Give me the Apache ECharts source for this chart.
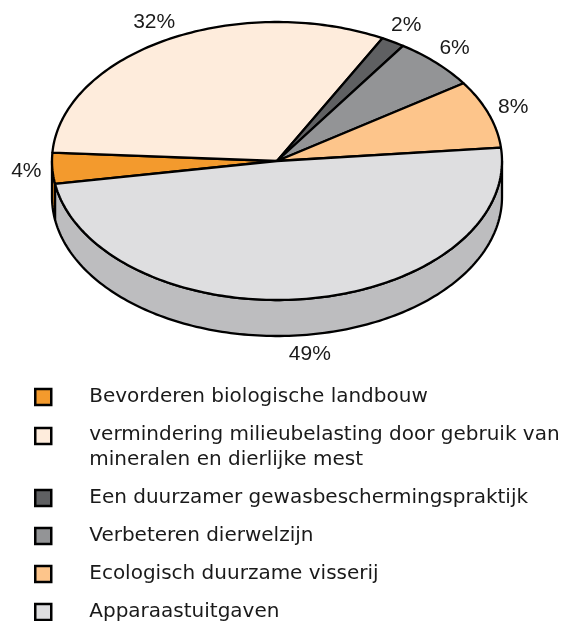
<!DOCTYPE html>
<html>
<head>
<meta charset="utf-8">
<script src="https://cdn.jsdelivr.net/npm/echarts@6/dist/echarts.min.js"></script>
<style>
  html, body { margin: 0; padding: 0; background: #fff; }
  #main { width: 566px; height: 621px; }
</style>
</head>
<body>
<div id="main"></div>
<script>
// slices, clockwise from the left edge of the pie
const categories = [
  'Bevorderen biologische landbouw',
  'vermindering milieubelasting door gebruik van mineralen en dierlijke mest',
  'Een duurzamer gewasbeschermingspraktijk',
  'Verbeteren dierwelzijn',
  'Ecologisch duurzame visserij',
  'Apparaastuitgaven'
];
const shares = [3.6, 31.8, 1.7, 6.1, 7.9, 48.9];

const topColors = ['#f39a2d', '#feecdc', '#5f6062', '#939496', '#fdc58b', '#dedee0'];
const sideColors = ['#d9821f', '#e6d4c4', '#4a4b4d', '#7a7b7d', '#e6ab70', '#bdbdbf'];

// pie geometry
const CX = 277, CY = 161, RX = 225, RY = 139, DEPTH = 36, START_DEG = 170.5;
const LABEL_FONT = 'Liberation Sans';
const LEGEND_FONT = 'DejaVu Sans';

const total = shares.reduce((a, b) => a + b, 0);
const before = shares.map((v, i) => shares.slice(0, i).reduce((a, b) => a + b, 0));

function pt(a, dy) {
  return [CX + RX * Math.cos(a), CY + RY * Math.sin(a) + dy];
}
function arc(a1, a2, dy) {
  const n = Math.max(2, Math.ceil(Math.abs(a2 - a1) / 0.02));
  const pts = [];
  for (let k = 0; k <= n; k++) pts.push(pt(a1 + (a2 - a1) * k / n, dy));
  return pts;
}

function renderSlice(params, api) {
  const i = params.seriesIndex;
  const v = api.value(0), b = api.value(1);
  const a1 = (START_DEG + b / total * 360) * Math.PI / 180;
  const a2 = a1 + v / total * 2 * Math.PI;
  const children = [];
  // visible front wall (angles 0..180 on screen)
  [0, 2 * Math.PI].forEach(k => {
    const s = Math.max(a1, k), e = Math.min(a2, k + Math.PI);
    if (e > s) {
      children.push({
        type: 'polygon', z2: 1,
        shape: { points: arc(s, e, 0).concat(arc(e, s, DEPTH)) },
        style: { fill: sideColors[i], stroke: '#000', lineWidth: 2.3, lineJoin: 'round' }
      });
    }
  });
  // top face
  children.push({
    type: 'polygon', z2: 5,
    shape: { points: [[CX, CY]].concat(arc(a1, a2, 0)) },
    style: { fill: api.visual('color'), stroke: '#000', lineWidth: 2.3, lineJoin: 'round' }
  });
  // percentage label
  const m = (a1 + a2) / 2;
  children.push({
    type: 'text', z2: 10,
    x: CX + (RX + 26) * Math.cos(m),
    y: CY + (RY + 20) * Math.sin(m) + DEPTH * Math.max(0, Math.sin(m)),
    style: {
      text: Math.round(v) + '%',
      fontFamily: LABEL_FONT,
      fontSize: 21,
      fill: '#1a1a1a',
      align: 'center', verticalAlign: 'middle',
      textAlign: 'center', textVerticalAlign: 'middle'
    }
  });
  return { type: 'group', children };
}

// wrap long names; a tall spacer on the first line keeps the icon level with it
function wrap(name) {
  const max = 46;
  if (name.length <= max) return '{t|' + name + '}';
  const cut = name.lastIndexOf(' ', max);
  return '{s|}{b|' + name.slice(0, cut) + '}\n{c|' + name.slice(cut + 1) + '}';
}

const txt = { fontFamily: LEGEND_FONT, fontSize: 20, color: '#1a1a1a' };

const chart = echarts.init(document.getElementById('main'));
chart.setOption({
  animation: false,
  legend: {
    orient: 'vertical',
    left: 34,
    top: 387,
    height: 300,
    padding: 0,
    itemWidth: 16,
    itemHeight: 16,
    itemGap: 18,
    icon: 'rect',
    selectedMode: false,
    itemStyle: { borderColor: '#000', borderWidth: 2.5 },
    textStyle: {
      fontFamily: LEGEND_FONT, fontSize: 20, color: '#1a1a1a', padding: [0, 0, 0, 33],
      rich: {
        t: Object.assign({ lineHeight: 24 }, txt),
        s: Object.assign({ lineHeight: 48, verticalAlign: 'bottom' }, txt),
        b: Object.assign({ lineHeight: 24, verticalAlign: 'bottom' }, txt),
        c: Object.assign({ lineHeight: 30 }, txt)
      }
    },
    formatter: wrap,
    data: categories
  },
  series: categories.map((name, i) => ({
    type: 'custom',
    name: name,
    coordinateSystem: 'none',
    silent: true,
    itemStyle: { color: topColors[i] },
    renderItem: renderSlice,
    data: [[shares[i], before[i]]]
  }))
});
</script>
</body>
</html>
